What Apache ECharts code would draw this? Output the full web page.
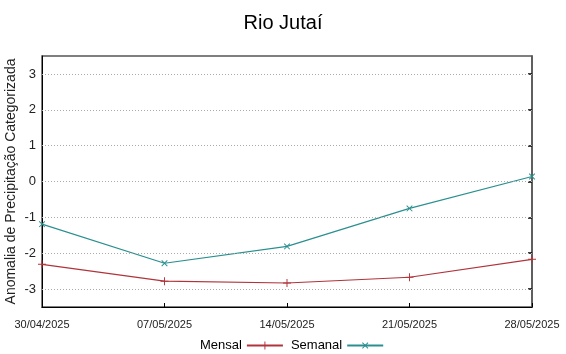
<!DOCTYPE html>
<html>
<head>
<meta charset="utf-8">
<script src="https://cdn.jsdelivr.net/npm/echarts@6/dist/echarts.min.js"></script>
<style>
  html, body { margin: 0; padding: 0; background: #fff; }
  #chart { width: 566px; height: 354px; }
</style>
</head>
<body>
<div id="chart"></div>
<script>
const dates = ['30/04/2025', '07/05/2025', '14/05/2025', '21/05/2025', '28/05/2025']
const mensal = [-2.31, -2.78, -2.83, -2.67, -2.17]
const semanal = [-1.19, -2.28, -1.81, -0.75, 0.14]
const yTicks = [-3, -2, -1, 0, 1, 2, 3]

const plusPath = 'path://M0,4.4h10v1.2h-10z M4.4,0h1.2v10h-1.2z'
const font = 'Liberation Sans, Arial, sans-serif'

const chart = echarts.init(document.getElementById('chart'))

chart.setOption({
  animation: false,
  title: {
    text: 'Rio Jutaí',
    left: 'center',
    top: 8,
    textStyle: { fontFamily: font, fontSize: 20, fontWeight: 'normal', color: '#000' }
  },
  grid: {
    left: 42, right: 34, top: 56, bottom: 47,
    containLabel: false, outerBoundsMode: 'none',
    show: true, borderColor: '#555', borderWidth: 1.5
  },
  legend: {
    top: 334,
    left: 195,
    align: 'right',
    itemWidth: 36,
    itemHeight: 10,
    itemGap: 7,
    textStyle: { fontFamily: font, fontSize: 13, color: '#000' },
    data: ['Mensal', 'Semanal']
  },
  xAxis: {
    type: 'category',
    data: dates,
    boundaryGap: false,
    axisLine: { onZero: false, lineStyle: { color: '#000' } },
    axisTick: { inside: true, length: 4, lineStyle: { color: '#000' } },
    axisLabel: { color: '#222', fontFamily: font, fontSize: 11, margin: 12 },
    splitLine: { show: false }
  },
  yAxis: [
    {
      type: 'value',
      min: -3.5,
      max: 3.5,
      name: 'Anomalia de Precipitação Categorizada',
      nameLocation: 'middle',
      nameGap: 24,
      nameMoveOverlap: false,
      nameTextStyle: { fontFamily: font, fontSize: 14, color: '#222' },
      axisLine: { show: true, onZero: false, lineStyle: { color: '#000' } },
      axisTick: { show: false },
      axisLabel: { color: '#222', fontFamily: font, fontSize: 13, margin: 6, customValues: yTicks },
      splitLine: { show: false }
    },
    {
      type: 'value',
      position: 'right',
      min: -3.5,
      max: 3.5,
      axisLine: { show: true, onZero: false, lineStyle: { color: '#555', width: 1.5 } },
      axisTick: { show: true, inside: true, length: 4, customValues: yTicks, lineStyle: { color: '#000', width: 1.5 } },
      axisLabel: { show: false },
      splitLine: { show: false }
    }
  ],
  series: [
    {
      name: 'Mensal',
      type: 'line',
      data: mensal,
      symbol: plusPath,
      symbolSize: 8,
      lineStyle: { color: '#b0343a', width: 1.2 },
      itemStyle: { color: '#b0343a' },
      z: 3
    },
    {
      name: 'Semanal',
      type: 'line',
      data: semanal,
      symbol: plusPath,
      symbolRotate: 45,
      symbolSize: 8,
      lineStyle: { color: '#2a8f8f', width: 1.2 },
      itemStyle: { color: '#2a8f8f' },
      z: 3
    },
    {
      // dotted horizontal grid lines at the integer ticks
      type: 'line',
      data: [],
      markLine: {
        silent: true,
        symbol: 'none',
        label: { show: false },
        lineStyle: { color: '#aaa', type: [1, 2], width: 1 },
        data: yTicks.map(v => ({ yAxis: v }))
      }
    }
  ]
})
</script>
</body>
</html>
